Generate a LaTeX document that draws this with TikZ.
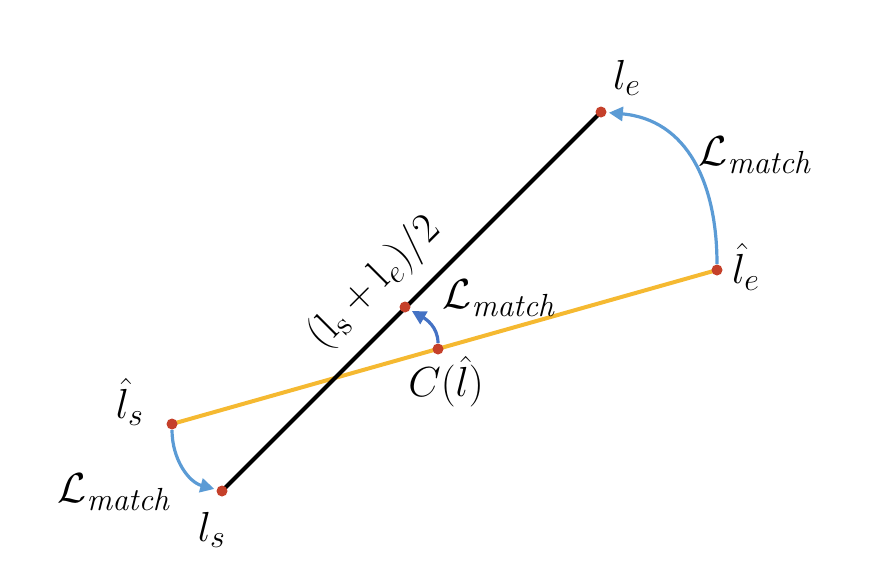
\documentclass[tikz,border=0pt]{standalone}
\usepackage{fix-cm}
\usepackage{amsmath}
\DeclareMathSizes{21}{21}{16}{12}
\usetikzlibrary{arrows.meta}
\definecolor{dotred}{HTML}{C5402A}
\definecolor{gold}{HTML}{F5B931}
\definecolor{lblue}{HTML}{5B9BD5}
\definecolor{dblue}{HTML}{4472C4}
\tikzset{
  pt/.style={circle,fill=dotred,inner sep=0pt,minimum size=5.5pt},
  lbl/.style={inner sep=0pt,font=\fontsize{21}{23}\selectfont},
  gtline/.style={line width=2pt,black},
  predline/.style={line width=2pt,gold},
  matcharrow/.style={line width=1.6pt,lblue,-{Triangle[length=7pt,width=7pt]},shorten >=1pt},
  matcharrowd/.style={line width=1.6pt,dblue,-{Triangle[length=7pt,width=7pt]},shorten >=1pt}
}
\begin{document}
\begin{tikzpicture}[x=0.5pt,y=-0.5pt]
\useasboundingbox (0,0) rectangle (896,584);
\coordinate (le) at (601,112);
\coordinate (ls) at (222,491);
\coordinate (lhe) at (717,270);
\coordinate (lhs) at (172,424);
\coordinate (mid) at (405,307);
\coordinate (c) at (438,349);
\draw[predline] (lhs) -- (lhe);
\draw[gtline] (ls) -- (le);
\node[pt] (nle) at (le) {};
\node[pt] (nls) at (ls) {};
\node[pt] (nlhe) at (lhe) {};
\node[pt] (nlhs) at (lhs) {};
\node[pt] (nmid) at (mid) {};
\node[pt] (nc) at (c) {};
\draw[matcharrow] (nlhe) to[out=90,in=-5,looseness=1.1] (nle);
\draw[matcharrowd] (nc) to[out=90,in=-30,looseness=1] (nmid);
\draw[matcharrow] (nlhs) to[out=-90,in=165,looseness=1] (nls);
\node[lbl] (tle) at (627,78) {$l_e$};
\node[lbl] (tm1) at (756,155) {$\mathcal{L}_{\mathit{match}}$};
\node[lbl] (tlhe) at (746,267) {$\hat{l}_e$};
\node[lbl] (tm2) at (500,298) {$\mathcal{L}_{\mathit{match}}$};
\node[lbl] (tc) at (446,382) {$C(\hat{l})$};
\node[lbl] (tlhs) at (130,402) {$\hat{l}_s$};
\node[lbl] (tm3) at (115,492) {$\mathcal{L}_{\mathit{match}}$};
\node[lbl] (tls) at (212,530) {$l_s$};
\node[lbl,rotate=45] (tmid) at (375,283) {$(\mathrm{l}_\mathrm{s}+\mathrm{l}_e)/2$};
\end{tikzpicture}
\end{document}
